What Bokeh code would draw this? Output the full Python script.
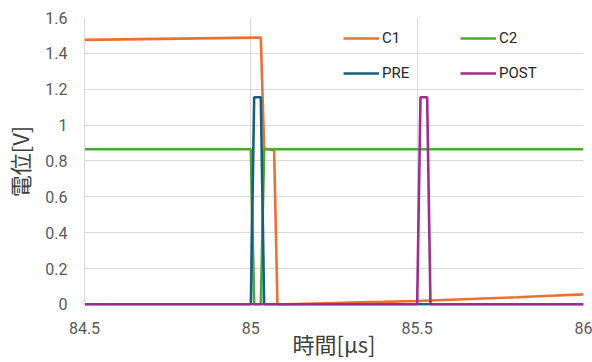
from bokeh.plotting import figure
from bokeh.models import Range1d, FixedTicker, CustomJSTickFormatter, Legend, LegendItem
from bokeh.embed import file_html
from bokeh.resources import INLINE

# ---- data (time in µs, potential in V) ----
c1_t = [84.5, 85.03, 85.04, 85.07, 85.08, 85.1, 85.2, 85.3, 85.4, 85.5, 85.6, 85.7, 85.8, 85.9, 86.0]
c1_v = [1.475, 1.488, 0.87, 0.86, 0.0, 0.0, 0.005, 0.01, 0.014, 0.019, 0.026, 0.033, 0.04, 0.048, 0.056]

c2_t = [84.5, 85.0, 85.01, 85.03, 85.04, 86.0]
c2_v = [0.865, 0.865, 0.0, 0.0, 0.865, 0.865]

pre_t = [84.5, 85.0, 85.01, 85.03, 85.04, 86.0]
pre_v = [0.0, 0.0, 1.155, 1.155, 0.0, 0.0]

post_t = [84.5, 85.5, 85.51, 85.53, 85.54, 86.0]
post_v = [0.0, 0.0, 1.155, 1.155, 0.0, 0.0]

x_ticks = [84.5, 85.0, 85.5, 86.0]
y_ticks = [0, 0.2, 0.4, 0.6, 0.8, 1.0, 1.2, 1.4, 1.6]

x_title = "時間[μs]"
y_title = "電位[V]"

colors = {"C1": "#E97132", "C2": "#4EA72E", "PRE": "#156082", "POST": "#A02B93"}

p = figure(width=592, height=362, output_backend="svg", toolbar_location=None,
           x_range=Range1d(84.5, 86.0), y_range=Range1d(-0.006, 1.6),
           min_border_left=79, min_border_right=9, min_border_top=17, min_border_bottom=57)
p.outline_line_color = None
p.background_fill_color = "white"

fmt = CustomJSTickFormatter(code="return String(Number(tick.toFixed(2)));")
for ax, ticks in ((p.xaxis[0], x_ticks), (p.yaxis[0], y_ticks)):
    ax.ticker = FixedTicker(ticks=ticks)
    ax.formatter = fmt
    ax.axis_line_color = "#D9D9D9"
    ax.major_tick_line_color = None
    ax.minor_tick_line_color = None
    ax.major_tick_out = 0
    ax.major_label_text_font = "Roboto"
    ax.major_label_text_font_size = "16px"
    ax.major_label_text_color = "#595959"
    ax.axis_label_text_font = "Noto Sans CJK JP"
    ax.axis_label_text_font_size = "22px"
    ax.axis_label_text_font_style = "normal"
    ax.axis_label_text_color = "#404040"

p.xaxis.axis_line_color = None
p.xaxis.major_label_standoff = 16
p.yaxis.major_label_standoff = 17
p.xaxis.axis_label = x_title
p.yaxis.axis_label = y_title
p.xaxis.axis_label_standoff = -10
p.yaxis.axis_label_standoff = 7

p.xgrid.ticker = FixedTicker(ticks=x_ticks)
p.ygrid.ticker = FixedTicker(ticks=y_ticks)
p.xgrid.grid_line_color = "#D9D9D9"
p.ygrid.grid_line_color = "#D9D9D9"

lw = 2.6
r1 = p.line(c1_t, c1_v, line_color=colors["C1"], line_width=lw)
r2 = p.line(c2_t, c2_v, line_color=colors["C2"], line_width=lw)
r3 = p.line(pre_t, pre_v, line_color=colors["PRE"], line_width=lw)
r4 = p.line(post_t, post_v, line_color=colors["POST"], line_width=lw)

# column-major filling: C1, PRE in first column; C2, POST in second
legend = Legend(items=[LegendItem(label="C1", renderers=[r1]),
                       LegendItem(label="PRE", renderers=[r3]),
                       LegendItem(label="C2", renderers=[r2]),
                       LegendItem(label="POST", renderers=[r4])],
                ncols=2, location=(259, 217))
legend.background_fill_alpha = 0
legend.border_line_color = None
legend.padding = 0
legend.margin = 0
legend.spacing = 5
legend.glyph_width = 36
legend.glyph_height = 30
legend.label_height = 30
legend.label_width = 73
legend.label_standoff = 3
legend.label_text_font = "Roboto"
legend.label_text_font_size = "15px"
legend.label_text_color = "#262626"
p.add_layout(legend)

open("out.html", "w").write(file_html(p, INLINE))
